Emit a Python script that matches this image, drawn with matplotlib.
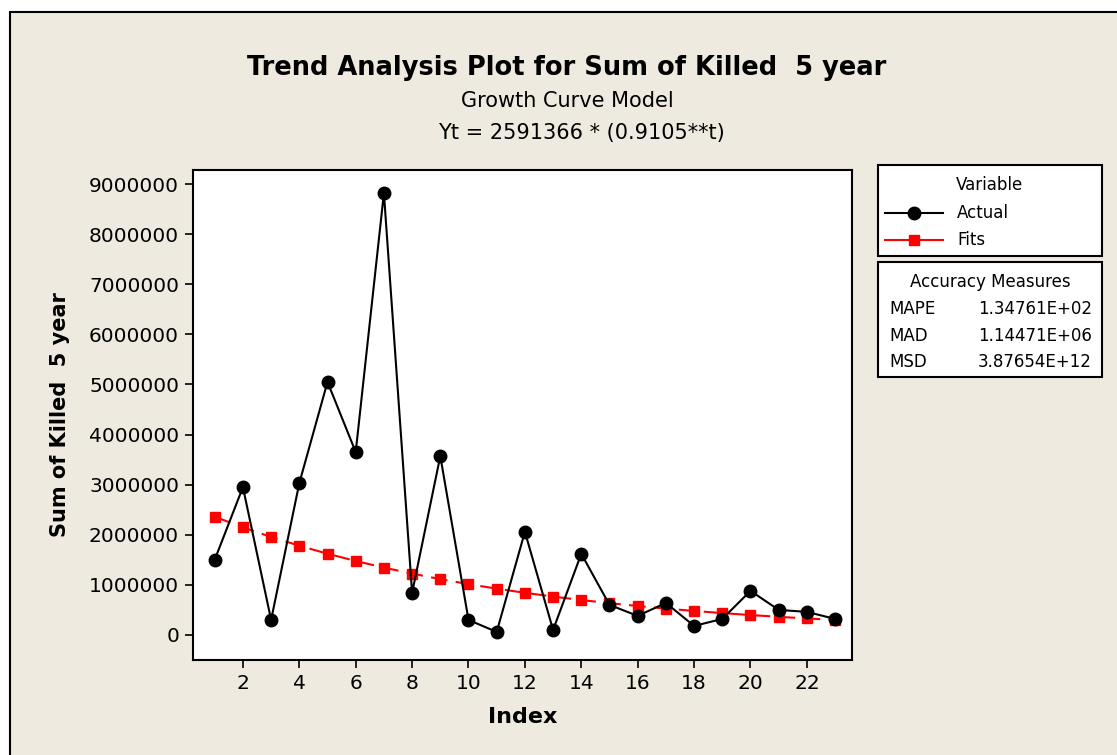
import matplotlib.pyplot as plt
from matplotlib.patches import Rectangle
from matplotlib.lines import Line2D
from matplotlib.ticker import FuncFormatter

plt.rcParams['font.family'] = ['DejaVu Sans']

# data
index = list(range(1, 24))
actual = [1500000, 2950000, 300000, 3030000, 5050000, 3650000, 8820000, 840000,
          3570000, 300000, 60000, 2060000, 100000, 1620000, 600000, 380000,
          640000, 180000, 320000, 880000, 500000, 460000, 320000]
fits = [2359439, 2148269, 1955999, 1780937, 1621544, 1476415, 1344276, 1223963,
        1114419, 1014677, 923863, 841177, 765891, 697344, 634932, 578106,
        526365, 479255, 436362, 397308, 361745, 329373, 299894]
measures = ["MAPE", "MAD", "MSD"]
measure_vals = ["1.34761E+02", "1.14471E+06", "3.87654E+12"]

W, H = 1117, 755
bg = '#EEEAE0'
fig = plt.figure(figsize=(W / 100, H / 100), dpi=100, facecolor='white')

# outer frame
fig.patches.append(Rectangle((10 / W, -0.05), 1.2, (H - 12) / H + 0.05,
                             transform=fig.transFigure, facecolor=bg,
                             edgecolor='black', linewidth=1.5, zorder=-10))

ax = fig.add_axes([193 / W, 1 - 660 / H, (852 - 193) / W, (660 - 170) / H])
ax.set_facecolor('white')
ax.plot(index, actual, color='black', lw=1.5, marker='o', ms=9, zorder=3)
ax.plot(index, fits, color='red', lw=1.5, ls=(0, (8, 4)), marker='s', ms=7, zorder=2)

ax.set_xlim(0.23, 23.6)
ax.set_ylim(-500000, 9280000)
ax.set_xticks(range(2, 23, 2))
ax.set_yticks(range(0, 9000001, 1000000))
ax.yaxis.set_major_formatter(FuncFormatter(lambda v, p: f"{int(v)}"))
ax.tick_params(direction='out', length=6, width=1.2, labelsize=14.5, pad=4)
for s in ax.spines.values():
    s.set_linewidth(1.5)

ax.set_xlabel("Index", fontsize=16, fontweight='bold', labelpad=10)
ax.set_ylabel("Sum of Killed  5 year", fontsize=15, fontweight='bold', labelpad=14)

fig.text(567 / W, 1 - 68 / H, "Trend Analysis Plot for Sum of Killed  5 year",
         ha='center', va='center', fontsize=18.5, fontweight='bold')
fig.text(567 / W, 1 - 101 / H, "Growth Curve Model", ha='center', va='center', fontsize=15)
fig.text(581 / W, 1 - 133 / H, "Yt = 2591366 * (0.9105**t)", ha='center', va='center', fontsize=15)

# legend boxes
for (y0, y1) in [(165, 256), (262, 377)]:
    fig.patches.append(Rectangle((878 / W, 1 - y1 / H), (1102 - 878) / W, (y1 - y0) / H,
                                 transform=fig.transFigure, facecolor='white',
                                 edgecolor='black', linewidth=1.5))

fig.text(990 / W, 1 - 185 / H, "Variable", ha='center', va='center', fontsize=12)
for yy, col, mk, ms, lab in [(213, 'black', 'o', 9, "Actual"), (240, 'red', 's', 7, "Fits")]:
    fig.add_artist(Line2D([885 / W, 943 / W], [1 - yy / H, 1 - yy / H], color=col, lw=1.5,
                          transform=fig.transFigure))
    fig.add_artist(Line2D([914 / W], [1 - yy / H], color=col, marker=mk, ms=ms,
                          transform=fig.transFigure))
    fig.text(957 / W, 1 - yy / H, lab, ha='left', va='center', fontsize=12)

fig.text(990 / W, 1 - 282 / H, "Accuracy Measures", ha='center', va='center', fontsize=12)
for i, (m, v) in enumerate(zip(measures, measure_vals)):
    yy = 309 + i * 26.5
    fig.text(889 / W, 1 - yy / H, m, ha='left', va='center', fontsize=12)
    fig.text(1092 / W, 1 - yy / H, v, ha='right', va='center', fontsize=12)

fig.savefig("out.png", dpi=100, facecolor=fig.get_facecolor())
